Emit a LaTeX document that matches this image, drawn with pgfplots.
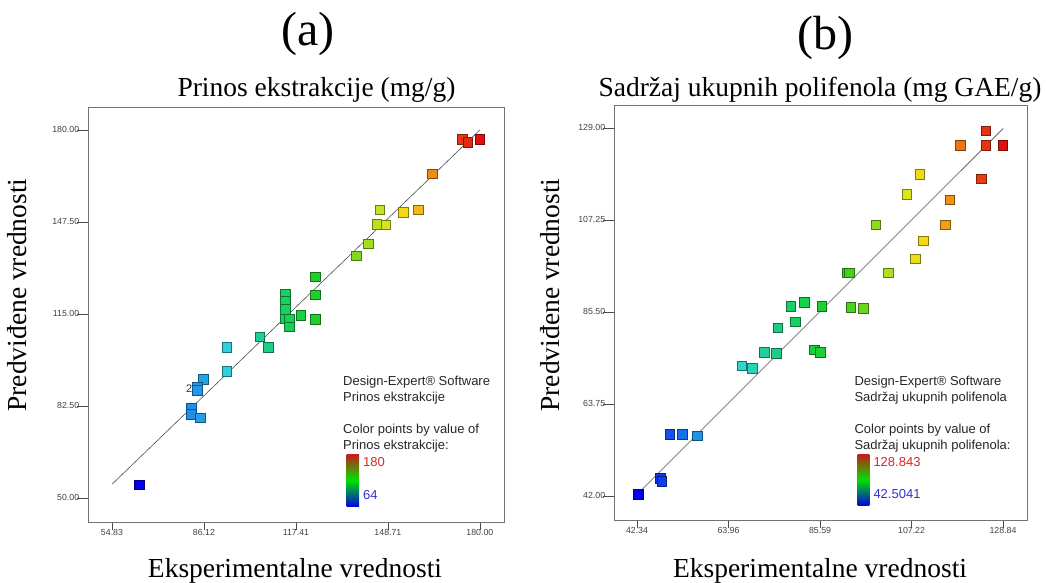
\documentclass[border=0pt]{standalone}
\usepackage{fontspec}
\setmainfont{Liberation Serif}
\setsansfont{Liberation Sans}
\usepackage{pgfplots}
\pgfplotsset{compat=1.18}

\pgfplotsset{
  dexp/.style={
    scale only axis, anchor=south west, clip=false,
    axis line style={black!55, line width=0.8pt},
    tick align=outside, tick pos=left,
    xtick style={black!70, line width=0.6pt, /pgfplots/major tick length=8pt},
    ytick style={black!70, line width=0.6pt, /pgfplots/major tick length=11pt},
    tick label style={font=\sffamily\fontsize{8.8}{10}\selectfont, text=black!75},
    yticklabel style={xshift=-1pt},
    /pgf/number format/assume math mode=true,
    colormap={de}{rgb255(0pt)=(0,0,240); rgb255(15pt)=(30,140,235); rgb255(27pt)=(50,215,220);
      rgb255(37pt)=(30,205,140); rgb255(46pt)=(20,210,70); rgb255(55pt)=(40,205,30);
      rgb255(66pt)=(150,220,30); rgb255(73pt)=(215,230,30); rgb255(79pt)=(250,215,20);
      rgb255(86pt)=(240,140,20); rgb255(93pt)=(230,70,20); rgb255(100pt)=(225,15,15)},
    scatter/use mapped color={draw=mapped color!55!black, fill=mapped color},
  },
  pts/.style={scatter, only marks, mark=square*, mark size=4.8pt, point meta=x,
    mark options={line width=0.7pt}},
}

\begin{document}
\begin{tikzpicture}
\useasboundingbox (0pt,0pt) rectangle (1046pt,-583pt);

% ---------- panel (a) ----------
\begin{axis}[dexp, at={(88pt,-522pt)}, width=416pt, height=415pt,
  xmin=46.67, xmax=188.2, ymin=41.5, ymax=188.1,
  xtick={54.83,86.12,117.41,148.71,180.00},
  xticklabels={54.83,86.12,117.41,148.71,180.00},
  ytick={50,82.5,115,147.5,180},
  yticklabels={50.00,82.50,115.00,147.50,180.00},
  point meta min=64, point meta max=180]
\addplot[black!70, line width=0.6pt] coordinates {(54.83,54.83) (180,180)};
\node[font=\sffamily\fontsize{11}{12}\selectfont, text=black!80, xshift=-8pt] at (axis cs:83.8,88.7) {2};
\addplot[pts] table {
x y
174.0 176.7
175.9 175.6
180.0 176.7
163.9 164.5
146.0 151.8
153.9 150.8
159.0 151.8
144.9 146.7
148.0 146.4
142.0 139.7
138.0 135.5
124.1 128.1
124.1 121.8
124.1 113.1
113.9 121.9
113.9 119.6
113.9 116.7
113.9 113.2
115.1 113.2
115.1 110.4
119.1 114.4
105.2 106.9
108.0 103.2
93.9 103.2
93.9 94.7
85.9 91.9
83.8 89.3
83.8 88.1
81.9 81.7
81.9 79.6
84.9 78.3
64.1 54.6
};
\end{axis}

% ---------- panel (b) ----------
\begin{axis}[dexp, at={(614pt,-520pt)}, width=413pt, height=415pt,
  xmin=36.9, xmax=134.5, ymin=36.3, ymax=134.4,
  xtick={42.34,63.96,85.59,107.22,128.84},
  xticklabels={42.34,63.96,85.59,107.22,128.84},
  ytick={42,63.75,85.5,107.25,129},
  yticklabels={42.00,63.75,85.50,107.25,129.00},
  point meta min=42.5041, point meta max=128.843]
\addplot[black!70, line width=0.6pt] coordinates {(42.34,42.34) (128.84,128.84)};
\addplot[pts] table {
x y
124.8 128.3
118.7 124.9
124.8 124.9
128.8 124.9
109.2 118.0
123.7 116.9
106.1 113.3
116.3 112.0
98.8 106.1
115.2 106.1
110.0 102.3
108.1 98.0
101.7 94.7
91.9 94.7
92.5 94.7
81.9 87.8
78.7 86.8
86.0 86.8
92.9 86.5
95.8 86.3
79.7 83.1
75.6 81.7
72.4 75.9
75.2 75.7
84.2 76.5
85.6 75.9
67.1 72.7
69.6 72.1
50.1 56.5
53.0 56.5
56.6 56.2
47.8 46.2
48.2 45.4
42.7 42.3
};
\end{axis}

% ---------- texts ----------
\node[anchor=base, font=\fontsize{48}{50}\selectfont] at (308pt,-46pt) {(a)};
\node[anchor=base, font=\fontsize{48}{50}\selectfont] at (825pt,-50pt) {(b)};
\node[anchor=base, font=\fontsize{27.5}{30}\selectfont] at (316.5pt,-97pt) {Prinos ekstrakcije (mg/g)};
\node[anchor=base, font=\fontsize{27.5}{30}\selectfont] at (820pt,-97pt) {Sadržaj ukupnih polifenola (mg GAE/g)};
\node[anchor=base, font=\fontsize{27.5}{30}\selectfont] at (295pt,-577pt) {Eksperimentalne vrednosti};
\node[anchor=base, font=\fontsize{27.5}{30}\selectfont] at (820pt,-577pt) {Eksperimentalne vrednosti};
\node[anchor=base, rotate=90, font=\fontsize{27.5}{30}\selectfont] at (27pt,-295pt) {Predviđene vrednosti};
\node[anchor=base, rotate=90, font=\fontsize{27.5}{30}\selectfont] at (559pt,-295pt) {Predviđene vrednosti};

% ---------- Design-Expert legends ----------
\begin{scope}[every node/.style={anchor=west, inner sep=0pt, font=\sffamily\fontsize{13}{14}\selectfont, text=black!85}]
\node at (343pt,-381.7pt) {Design-Expert® Software};
\node at (343pt,-397.7pt) {Prinos ekstrakcije};
\node at (343pt,-430pt) {Color points by value of};
\node at (343pt,-445.7pt) {Prinos ekstrakcije:};
\node[text={rgb,255:red,215;green,40;blue,40}] at (363pt,-462pt) {180};
\node[text={rgb,255:red,50;green,50;blue,205}] at (363pt,-495pt) {64};

\node at (854.3pt,-381.7pt) {Design-Expert® Software};
\node at (854.3pt,-397.7pt) {Sadržaj ukupnih polifenola};
\node at (854.3pt,-430pt) {Color points by value of};
\node at (854.3pt,-445.7pt) {Sadržaj ukupnih polifenola:};
\node[text={rgb,255:red,215;green,40;blue,40}] at (873.3pt,-462.3pt) {128.843};
\node[text={rgb,255:red,50;green,50;blue,205}] at (873.3pt,-494.3pt) {42.5041};
\end{scope}
\shade[top color={rgb,255:red,200;green,25;blue,25}, bottom color={rgb,255:red,0;green,0;blue,225}, middle color={rgb,255:red,0;green,225;blue,0}]
  (346.7pt,-454pt) rectangle (359pt,-506.7pt);
\shade[top color={rgb,255:red,200;green,25;blue,25}, bottom color={rgb,255:red,0;green,0;blue,225}, middle color={rgb,255:red,0;green,225;blue,0}]
  (857.7pt,-454pt) rectangle (869.3pt,-505.7pt);
\end{tikzpicture}
\end{document}
